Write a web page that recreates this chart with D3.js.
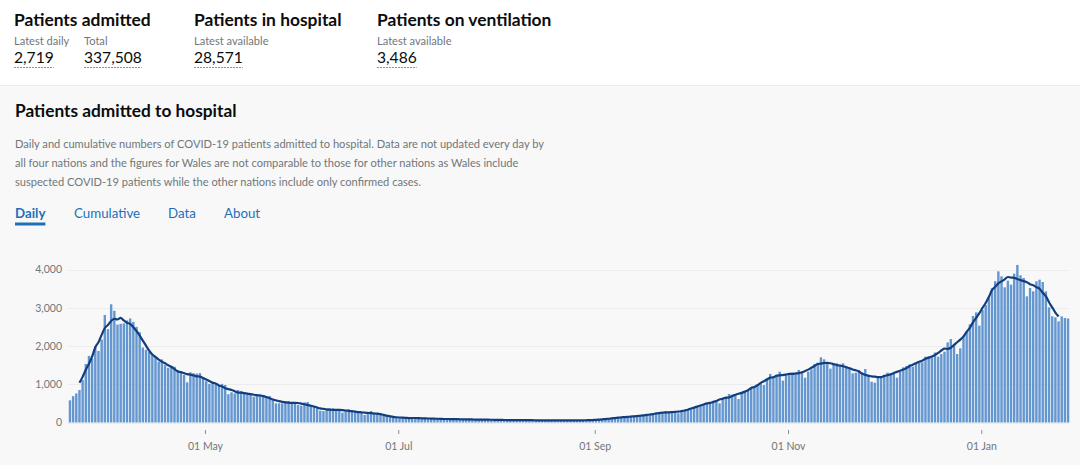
<!DOCTYPE html>
<html><head><meta charset="utf-8">
<script src="https://cdn.jsdelivr.net/npm/d3@7"></script>
<style>
html,body{margin:0;padding:0;background:#fff;}
svg{display:block;font-family:Lato,"Noto Sans",sans-serif;}
</style></head><body>
<svg id="c" width="1080" height="465"></svg>
<script>
// ---------- data ----------
const startDate = "2020-03-19";
const dailyAdmissions = [
 580,690,760,850,1110,1530,1740,1670,1990,1870,
 2170,2810,2440,3090,2920,2560,2580,2590,2670,2720,
 2630,2500,2360,1960,1900,1850,1780,1720,1590,1650,
 1500,1430,1480,1460,1370,1310,1240,1050,1310,1290,
 1280,1290,1150,1080,1010,1050,1020,980,1010,980,
 740,790,760,850,820,780,745,736,675,693,
 736,719,693,693,606,500,500,500,562,562,
 545,500,458,440,527,536,458,414,388,309,
 300,344,370,370,327,327,257,327,344,327,
 283,266,257,196,240,300,257,240,222,196,
 170,152,152,135,109,109,130,125,120,115,
 105,120,110,100,105,95,100,95,90,100,
 85,80,90,95,85,80,80,75,85,78,
 72,70,80,75,70,65,70,68,62,66,
 60,58,65,68,62,60,55,58,62,56,
 54,60,52,55,58,50,52,55,58,54,
 50,56,60,58,62,64,65,65,83,83,
 100,109,126,118,135,144,152,161,152,170,
 170,179,196,205,222,240,248,257,292,266,
 275,275,240,300,309,327,362,388,414,449,
 475,501,527,553,588,501,623,658,745,702,
 736,614,797,823,850,893,937,998,1024,980,
 1154,1268,1200,1250,1329,1094,1250,1250,1303,1303,
 1373,1320,1172,1329,1390,1530,1564,1704,1651,1530,
 1407,1503,1547,1503,1547,1477,1442,1285,1303,1373,
 1285,1399,1242,1067,1041,1181,1215,1242,1303,1259,
 1285,1172,1329,1442,1477,1520,1460,1547,1564,1573,
 1721,1738,1704,1830,1720,1790,1852,2095,2182,2044,
 1790,1939,2261,2375,2566,2784,2880,2532,2941,3072,
 3250,3510,3695,3952,3821,3534,3708,3604,3891,4120,
 3848,3778,3298,3516,3429,3691,3734,3673,3429,3011,
 2776,2749,2645,2776,2732,2719
];
const yTickValues = [0, 1000, 2000, 3000, 4000];
const xTickDates = ["2020-05-01", "2020-07-01", "2020-09-01", "2020-11-01", "2021-01-01"];
const headlineTitles = ["Patients admitted", "Patients in hospital", "Patients on ventilation"];
const headlineLabels = ["Latest daily", "Total", "Latest available", "Latest available"];
const headlineValues = ["2,719", "337,508", "28,571", "3,486"];
const cardTitle = "Patients admitted to hospital";
const cardDescription = [
 "Daily and cumulative numbers of COVID-19 patients admitted to hospital. Data are not updated every day by",
 "all four nations and the figures for Wales are not comparable to those for other nations as Wales include",
 "suspected COVID-19 patients while the other nations include only confirmed cases."
];
const tabNames = ["Daily", "Cumulative", "Data", "About"];
const rollingWindow = 7;

// ---------- derived ----------
const parse = d3.utcParse("%Y-%m-%d");
const start = parse(startDate);
const rows = dailyAdmissions.map((v, i) => ({date: d3.utcDay.offset(start, i), value: v}));
const half = Math.floor(rollingWindow / 2);
const avg = rows.map((r, i) => (i < half || i >= rows.length - half) ? null :
  ({date: r.date, value: d3.mean(rows.slice(i - half, i + half + 1), d => d.value)})).filter(d => d);

const svg = d3.select("#c");
svg.append("rect").attr("x",0).attr("y",0).attr("width",1080).attr("height",85).attr("fill","#ffffff");
svg.append("rect").attr("x",0).attr("y",85).attr("width",1080).attr("height",380).attr("fill","#f8f8f8");
svg.append("line").attr("x1",0).attr("x2",1080).attr("y1",85.5).attr("y2",85.5).attr("stroke","#ececec");

// ---------- headline ----------
const hlX = [14, 194, 377];
const hl = svg.append("g");
headlineTitles.forEach((t, i) => hl.append("text").attr("x", hlX[i]).attr("y", 26)
  .attr("font-size", 17.4).attr("font-weight", 700).attr("fill", "#0b0c0c").text(t));
const labX = [14, 84, 194, 377];
headlineLabels.forEach((t, i) => hl.append("text").attr("x", labX[i]).attr("y", 45)
  .attr("font-size", 11.1).attr("fill", "#6f777b").text(t));
headlineValues.forEach((t, i) => {
  const tx = hl.append("text").attr("x", labX[i]).attr("y", 63)
    .attr("font-size", 15.6).attr("fill", "#0b0c0c").text(t);
  const w = tx.node().getComputedTextLength();
  hl.append("line").attr("x1", labX[i]).attr("x2", labX[i] + w).attr("y1", 67.5).attr("y2", 67.5)
    .attr("stroke", "#8a9094").attr("stroke-dasharray", "2,1");
});

// ---------- card ----------
svg.append("text").attr("x", 15).attr("y", 117).attr("font-size", 17.3).attr("font-weight", 700)
  .attr("fill", "#0b0c0c").text(cardTitle);
cardDescription.forEach((t, i) => svg.append("text").attr("x", 15).attr("y", 147.5 + i * 19.2)
  .attr("font-size", 11.1).attr("fill", "#6f777b").text(t));
const tabX = [15, 74, 168, 224];
tabNames.forEach((t, i) => {
  const tx = svg.append("text").attr("x", tabX[i]).attr("y", 218).attr("font-size", 13.3)
    .attr("font-weight", i === 0 ? 700 : 400).attr("fill", "#1d70b8").text(t);
  if (i === 0) {
    const w = tx.node().getComputedTextLength();
    svg.append("rect").attr("x", tabX[i]).attr("y", 222.5).attr("width", w).attr("height", 3).attr("fill", "#1d70b8");
  }
});

// ---------- chart ----------
const x = d3.scaleUtc()
  .domain([start, d3.utcDay.offset(start, rows.length)])
  .range([68.75, 68.75 + rows.length * 3.1686]);
const y = d3.scaleLinear().domain([0, 4000]).range([422.5, 269.5]);

const grid = svg.append("g");
grid.selectAll("line").data(yTickValues).join("line")
  .attr("x1", 68).attr("x2", 1069)
  .attr("y1", d => Math.round(y(d)) + 0.5).attr("y2", d => Math.round(y(d)) + 0.5)
  .attr("stroke", "#ececec").attr("stroke-width", 1);

const yAxis = svg.append("g").attr("transform", "translate(62,0)")
  .call(d3.axisLeft(y).tickValues(yTickValues).tickFormat(d3.format(",")).tickSize(0).tickPadding(0));
yAxis.select(".domain").remove();
yAxis.selectAll("text").attr("font-size", 10.5).attr("fill", "#6f777b").attr("font-family", "Lato");

const xAxis = svg.append("g").attr("transform", "translate(0,430)")
  .call(d3.axisBottom(x).tickValues(xTickDates.map(parse)).tickFormat(d3.utcFormat("%d %b")).tickSize(4).tickPadding(9));
xAxis.select(".domain").remove();
xAxis.selectAll("line").attr("stroke", "#8a9094");
xAxis.selectAll("text").attr("font-size", 10.5).attr("fill", "#6f777b").attr("font-family", "Lato");

svg.append("g").selectAll("rect").data(rows).join("rect")
  .attr("x", d => x(d.date))
  .attr("width", d => x(d3.utcDay.offset(d.date, 1)) - x(d.date) - 0.75)
  .attr("y", d => y(d.value))
  .attr("height", d => y(0) - y(d.value))
  .attr("fill", "#6496d0");

const line = d3.line().x(d => x(d.date) + 1.2).y(d => y(d.value)).curve(d3.curveMonotoneX);
svg.append("path").datum(avg).attr("d", line).attr("fill", "none")
  .attr("stroke", "#133e7e").attr("stroke-width", 2.2).attr("stroke-linejoin", "round");
</script>
</body></html>
